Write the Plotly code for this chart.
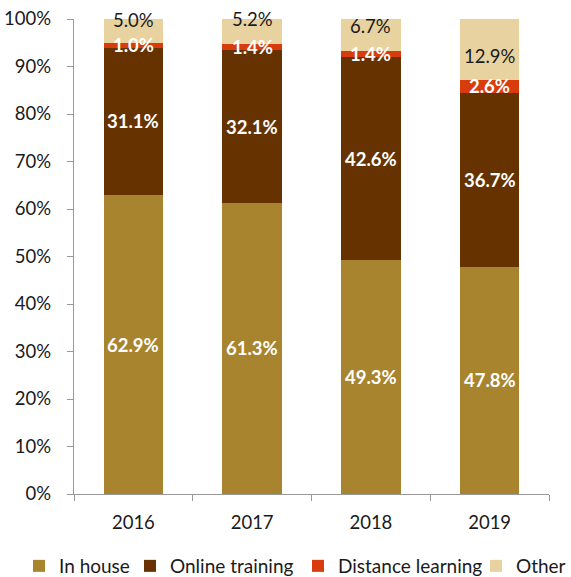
import plotly.graph_objects as go

years = ["2016", "2017", "2018", "2019"]
in_house = [62.9, 61.3, 49.3, 47.8]
online_training = [31.1, 32.1, 42.6, 36.7]
distance_learning = [1.0, 1.4, 1.4, 2.6]
other = [5.0, 5.2, 6.7, 12.9]

series = [
    ("In house", in_house, "#A8842E", "white", True),
    ("Online training", online_training, "#663300", "white", True),
    ("Distance learning", distance_learning, "#D83B0C", "white", True),
    ("Other", other, "#E8D3A0", "#1a1a1a", False),
]

# nudges (px) for the "Other" labels so they clear the thin red segment
other_label_shift = [11, 12, 9, -6]

# one legend per series, laid out in a single row under the axis
W, H = 571, 577
M = dict(l=74, r=22, t=19, b=83)
PW = W - M["l"] - M["r"]
PH = H - M["t"] - M["b"]
legend_left_px = [19, 130, 298, 476]
legend_mid_px = 566

FONT = "Lato, Carlito, Calibri, sans-serif"
FS = 18.5
FS_LEG = 19

fig = go.Figure()
annotations = []
base = [0.0] * len(years)
legend_layouts = {}
for k, (name, vals, color, txtcol, bold) in enumerate(series):
    lname = "legend" if k == 0 else f"legend{k + 1}"
    fig.add_trace(go.Bar(
        name=name, x=years, y=vals, marker=dict(color=color, line=dict(width=0)),
        hoverinfo="x+y+name", legend=lname,
    ))
    legend_layouts[lname] = dict(
        orientation="h", x=(legend_left_px[k] - M["l"]) / PW, xanchor="left",
        y=-(legend_mid_px - (H - M["b"])) / PH, yanchor="middle",
        font=dict(family=FONT, size=FS_LEG, color="#1a1a1a"),
        itemwidth=30, itemclick=False, bgcolor="rgba(0,0,0,0)",
    )
    for i, v in enumerate(vals):
        label = f"{v:.1f}%"
        if bold:
            label = f"<b>{label}</b>"
        shift = other_label_shift[i] if name == "Other" else 0
        annotations.append(dict(
            x=i, y=base[i] + v / 2, text=label, showarrow=False,
            font=dict(family=FONT, size=FS, color=txtcol),
            xref="x", yref="y", yshift=shift,
        ))
        base[i] += v

fig.update_layout(
    barmode="stack",
    bargap=0.5,
    width=W, height=H,
    margin=dict(**M, autoexpand=False),
    paper_bgcolor="white", plot_bgcolor="white",
    font=dict(family=FONT, size=FS, color="#1a1a1a"),
    annotations=annotations,
    showlegend=True,
    **legend_layouts,
)
fig.update_xaxes(
    type="category", range=[-0.5, len(years) - 0.5],
    showline=True, linecolor="#999999", linewidth=1.3,
    ticks="outside", tickson="boundaries", ticklen=6, tickcolor="#999999",
    tickwidth=1.3, showgrid=False, ticklabelstandoff=12, tickangle=0,
)
fig.update_yaxes(
    range=[0, 100], dtick=10, ticksuffix="%",
    showline=True, linecolor="#999999", linewidth=1.3,
    ticks="outside", ticklen=6, tickcolor="#999999", tickwidth=1.3,
    showgrid=False, zeroline=False, ticklabelstandoff=12,
)

fig.write_html("out.html")
